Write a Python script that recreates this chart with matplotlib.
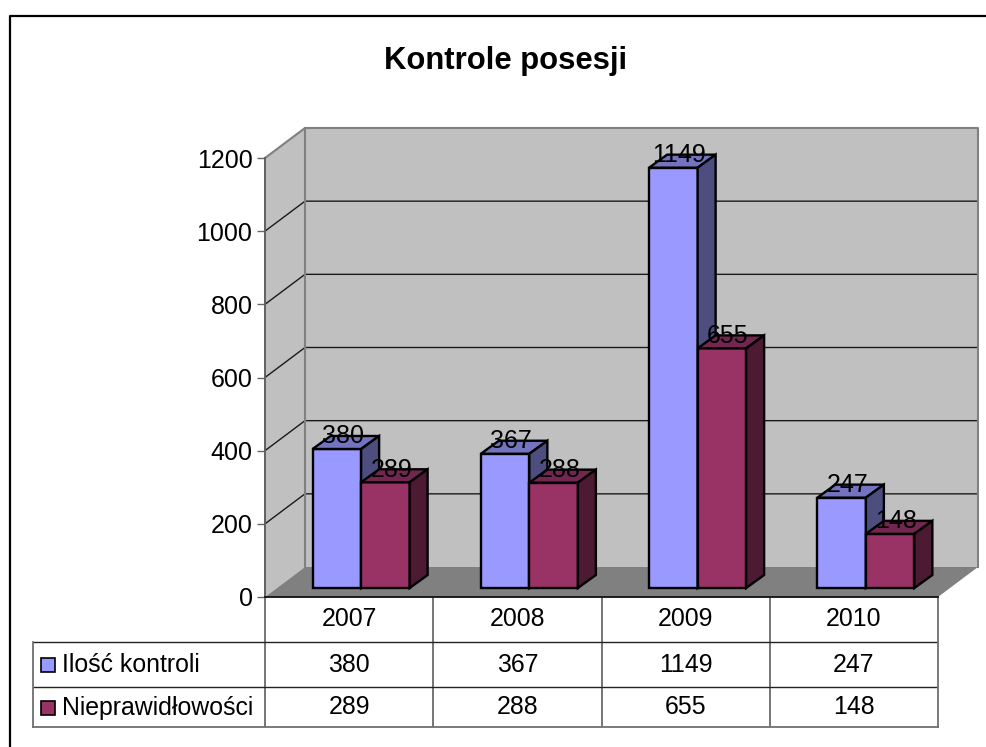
import matplotlib
matplotlib.use('Agg')
import matplotlib.pyplot as plt
from matplotlib.patches import Rectangle

plt.rcParams['font.family'] = ['Liberation Sans', 'DejaVu Sans']

# dane
lata = ['2007', '2008', '2009', '2010']
kontrole = [380, 367, 1149, 247]
nieprawidlowosci = [289, 288, 655, 148]
nazwy = ['Ilość kontroli', 'Nieprawidłowości']
y_ticks = [0, 200, 400, 600, 800, 1000, 1200]
title = 'Kontrole posesji'

W, H = 986, 747
L, R, T, B = 265, 938, 158, 597  # przednia plaszczyzna w pikselach

fig = plt.figure(figsize=(W / 100, H / 100), dpi=100, facecolor='white')

# warstwa w pikselach: ramka i tabela
bg = fig.add_axes([0, 0, 1, 1])
bg.set_xlim(0, W)
bg.set_ylim(H, 0)
bg.axis('off')
bg.plot([9.5, 9.5, W], [H, 15.5, 15.5], color='black', lw=1.6, solid_capstyle='butt')

ax = fig.add_axes([L / W, 1 - B / H, (R - L) / W, (B - T) / H])
ax.set_xlim(0, 4)
ax.set_ylim(0, 1200)
ax.patch.set_visible(False)
for s in ['top', 'right', 'bottom', 'left']:
    ax.spines[s].set_visible(False)

# glebokosc 3D w jednostkach danych
px_x = 4 / (R - L)
px_y = 1200 / (B - T)
DX, DY = 40 * px_x, 30 * px_y
top_v = 1200

# sciany i podloga
ax.fill([0, DX, DX, 0], [0, DY, top_v + DY, top_v], fc='#C0C0C0', ec='none', clip_on=False, zorder=1)
ax.fill([DX, 4 + DX, 4 + DX, DX], [DY, DY, top_v + DY, top_v + DY], fc='#C0C0C0', ec='none', clip_on=False, zorder=1)
ax.fill([0, 4, 4 + DX, DX], [0, 0, DY, DY], fc='#808080', ec='none', clip_on=False, zorder=1)

for v in y_ticks[1:-1]:
    ax.plot([0, DX, 4 + DX], [v, v + DY, v + DY], color='#1a1a1a', lw=1.0, clip_on=False, zorder=2)

# krawedzie scian
edge = dict(color='#808080', lw=1.5, clip_on=False, zorder=3)
ax.plot([0, DX, 4 + DX, 4 + DX], [top_v, top_v + DY, top_v + DY, DY], **edge)
ax.plot([DX, DX], [DY, top_v + DY], **edge)
ax.plot([0, 0], [0, top_v], color='#606060', lw=1.4, clip_on=False, zorder=3)
ax.plot([0, 4], [0, 0], color='#111111', lw=1.3, clip_on=False, zorder=6)

ax.set_xticks([])
ax.set_yticks(y_ticks)
ax.tick_params(axis='y', length=5.5, width=1.0, color='#666666', labelsize=18, pad=3.5)

# slupki
bar_w = 48.5 * px_x
off_x, off_y = 12 * px_x, 9 * px_y
dep_x, dep_y = 18 * px_x, 13 * px_y


def bar3d(x0, v, front, top, side):
    xb, base = x0 + off_x, off_y
    ax.bar(xb, v, bar_w, bottom=base, align='edge', color=front, edgecolor='black', lw=1.7, zorder=4, clip_on=False)
    h = base + v
    ax.fill([xb, xb + bar_w, xb + bar_w + dep_x, xb + dep_x], [h, h, h + dep_y, h + dep_y],
            fc=top, ec='black', lw=1.7, zorder=4, clip_on=False)
    ax.fill([xb + bar_w, xb + bar_w + dep_x, xb + bar_w + dep_x, xb + bar_w],
            [base, base + dep_y, h + dep_y, h], fc=side, ec='black', lw=1.7, zorder=4, clip_on=False)
    ax.text(xb + bar_w / 2 + 6 * px_x, h + 12.5 * px_y, str(v), ha='center', va='center', fontsize=18, zorder=5, clip_on=False)


for i in range(4):
    cx = i + 0.5
    bar3d(cx - bar_w, kontrole[i], '#9999FF', '#7373BF', '#4D4D80')
    bar3d(cx, nieprawidlowosci[i], '#993366', '#732650', '#4D1A33')

bg.text(506, 61, title, ha='center', va='center', fontsize=22.3, fontweight='bold')

# tabela
y_rows = [B, 642, 687, 727]
cols = [L + (R - L) * i / 4 for i in range(5)]
line = dict(color='#222222', lw=1.0, solid_capstyle='butt')
grey = dict(color='#707070', lw=1.3, solid_capstyle='projecting')
for x in cols[:-1]:
    bg.plot([x, x], [B, y_rows[3]], color='#505050', lw=1.1, solid_capstyle='butt')
bg.plot([33, R], [y_rows[1], y_rows[1]], **line)
bg.plot([33, R], [y_rows[2], y_rows[2]], **line)
bg.plot([R, R], [B, y_rows[3]], **grey)
bg.plot([33, R], [y_rows[3], y_rows[3]], **grey)
bg.plot([33, 33], [y_rows[1], y_rows[3]], **grey)

rows = [lata, kontrole, nieprawidlowosci]
for r, row in enumerate(rows):
    yc = (y_rows[r] + y_rows[r + 1]) / 2
    for i, val in enumerate(row):
        bg.text((cols[i] + cols[i + 1]) / 2, yc, str(val), ha='center', va='center', fontsize=17.9)

for name, col, r in zip(nazwy, ['#9999FF', '#993366'], [1, 2]):
    yc = (y_rows[r] + y_rows[r + 1]) / 2 + 0.5
    bg.add_patch(Rectangle((40.5, yc - 7), 14, 14, fc=col, ec='black', lw=1.2))
    bg.text(62, yc, name, ha='left', va='center', fontsize=17.9)

fig.savefig('out.png', dpi=100)
